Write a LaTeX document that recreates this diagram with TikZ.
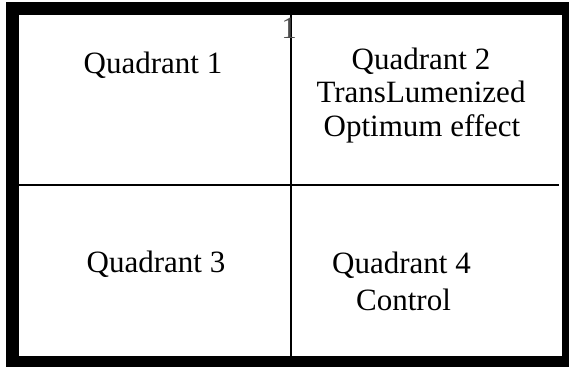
\documentclass[tikz,border=0pt]{standalone}
\usepackage{fontspec}
\setmainfont{Liberation Serif}
\begin{document}
\begin{tikzpicture}[x=1pt,y=-1pt,
  lbl/.style={anchor=base,inner sep=0pt,font=\fontsize{31}{36}\selectfont},
  divider/.style={line width=2.5pt,black}]
\useasboundingbox (0,0) rectangle (569,367);
\fill[black] (6,2) rectangle (569,367);
\fill[white] (19,15) rectangle (562,356);
\coordinate (hl) at (19,185);
\coordinate (hr) at (559,185);
\coordinate (vt) at (291,15);
\coordinate (vb) at (291,356);
\draw[divider] (hl) -- (hr);
\draw[divider] (vt) -- (vb);
\node[lbl,text=black!70] (one) at (289,38) {1};
\node[lbl] (q1) at (153,73) {Quadrant 1};
\node[lbl] (q2a) at (421,69) {Quadrant 2};
\node[lbl] (q2b) at (421,102.5) {TransLumenized};
\node[lbl] (q2c) at (422,136) {Optimum effect};
\node[lbl] (q3) at (156,272) {Quadrant 3};
\node[lbl] (q4a) at (401.5,273) {Quadrant 4};
\node[lbl] (q4b) at (403.5,310) {Control};
\end{tikzpicture}
\end{document}
